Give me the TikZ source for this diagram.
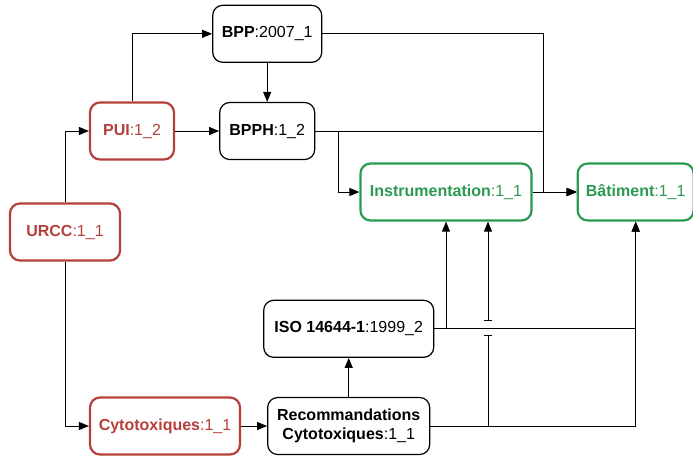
\documentclass[tikz,border=0pt]{standalone}
\usepackage{fontspec}
\setmainfont{Liberation Sans}
\usepackage{xcolor}
\usepackage{tikz}
\usetikzlibrary{arrows.meta, positioning, calc}
\definecolor{unitred}{HTML}{B5403B}
\definecolor{leafgreen}{HTML}{2A9A50}

\begin{document}
\begin{tikzpicture}[
  x=1pt, y=-1pt,
  node distance=44pt,
  box/.style={draw, line width=1.2pt, rounded corners=10pt, minimum height=57pt, align=center,
    font=\fontsize{16}{19}\selectfont, inner sep=2pt},
  unit/.style={box, draw=unitred, text=unitred, line width=2.2pt},
  leaf/.style={box, draw=leafgreen, text=leafgreen, line width=2.2pt},
  arr/.style={-{Triangle[length=10pt, width=8pt]}, line width=1pt},
  link/.style={line width=1pt},
]
\useasboundingbox (0,0) rectangle (693,456);

\node[unit, minimum width=110pt] (urcc) at (65,232) {\textbf{URCC}:1\_1};
\node[unit, minimum width=84pt] (pui) at (132,131) {\textbf{PUI}:1\_2};
\node[box, minimum width=95pt, right=44pt of pui] (bpph) {\textbf{BPPH}:1\_2};
\node[box, minimum width=109pt, above=39pt of bpph] (bpp) {\textbf{BPP}:2007\_1};

\node[leaf, minimum width=171pt] (inst) at (446,192) {\textbf{Instrumentation}:1\_1};
\node[leaf, minimum width=116pt, right=44pt of inst] (bat) {\textbf{Bâtiment}:1\_1};

\node[unit, minimum width=150pt] (cyto) at (165,426) {\textbf{Cytotoxiques}:1\_1};
\node[box, minimum width=162pt, right=26pt of cyto] (rec) {\textbf{Recommandations}\\\textbf{Cytotoxiques}:1\_1};
\node[box, minimum width=170pt, above=39pt of rec] (iso) {\textbf{ISO 14644-1}:1999\_2};

% junctions
\coordinate (merge) at ($(inst.east)!0.25!(bat.west)$);
\coordinate (jmp) at ($(iso.east -| inst.south) + (42,0)$);

\draw[arr] (urcc) |- (pui);
\draw[arr] (urcc) |- (cyto);
\draw[arr] (pui) |- (bpp);
\draw[arr] (pui) -- (bpph);
\draw[arr] (bpp) -- (bpph);

\draw[arr] (bpp) -| (merge) -- (bat);
\draw[arr] (bpph.east) -- ++(23,0) |- (inst);
\draw[arr] (bpph.east) -| (merge) -- (bat);
\draw[arr] (inst) -- (bat);

\draw[arr] (iso.east) -| (inst.south);
\draw[arr] (iso.east) -| (bat.south);

\draw[arr] (cyto) -- (rec);
\draw[arr] (rec) -- (iso);
\draw[arr] (rec.east) -| (bat.south);
\draw[link, -{Bar[width=8pt, line width=1pt]}] (rec.east) -| ($(jmp)+(0,6)$);
\draw[arr, {Bar[width=8pt, line width=1pt]}-{Triangle[length=10pt, width=8pt]}] ($(jmp)+(0,-8)$) -- ($(inst.south)+(42,0)$);

\end{tikzpicture}
\end{document}
